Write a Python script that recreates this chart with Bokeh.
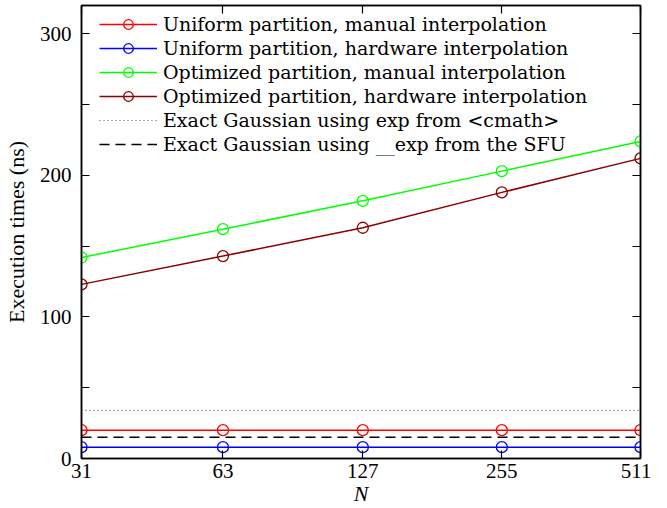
from bokeh.plotting import figure
from bokeh.models import Range1d, LinearAxis, LogAxis, FixedTicker, Legend, LegendItem
from bokeh.embed import file_html
from bokeh.resources import INLINE

N = [31, 63, 127, 255, 511]
uniform_manual = [20, 20, 20, 20, 20]
uniform_hw = [8, 8, 8, 8, 8]
opt_manual = [142, 162, 182, 203, 224]
opt_hw = [123, 143, 163, 188, 212]
exact_cmath = [34, 34, 34, 34, 34]
exact_sfu = [15, 15, 15, 15, 15]

y_ticks = [0, 100, 200, 300]
y_minor = [50, 150, 250]

FONT = "Liberation Serif"

p = figure(width=651, height=508, x_axis_type="log",
           x_range=Range1d(31, 511), y_range=Range1d(0, 320),
           output_backend="svg", toolbar_location=None,
           min_border_left=80, min_border_right=11,
           min_border_top=5, min_border_bottom=49)
p.xgrid.visible = False
p.ygrid.visible = False
p.outline_line_color = "black"
p.outline_line_width = 1.5
p.background_fill_color = "white"


def style_axis(ax):
    ax.major_tick_in = 8
    ax.major_tick_out = 0
    ax.minor_tick_in = 8
    ax.minor_tick_out = 0
    ax.axis_line_color = "black"
    ax.axis_line_width = 1.5
    ax.major_tick_line_width = 1.2
    ax.minor_tick_line_width = 1.2
    ax.major_label_text_font = FONT
    ax.major_label_text_font_size = "21px"
    ax.major_label_text_color = "black"
    ax.axis_label_text_font = FONT
    ax.axis_label_text_font_size = "22px"
    ax.axis_label_text_color = "black"
    ax.axis_label_text_font_style = "normal"


p.xaxis.ticker = FixedTicker(ticks=N, minor_ticks=[])
p.xaxis.major_label_overrides = {n: str(n) for n in N}
p.yaxis.ticker = FixedTicker(ticks=y_ticks, minor_ticks=y_minor)
for ax in p.xaxis:
    style_axis(ax)
    ax.axis_label = "N"
    ax.axis_label_text_font_style = "italic"
    ax.axis_label_standoff = 0
    ax.major_label_standoff = 5
for ax in p.yaxis:
    style_axis(ax)
    ax.axis_label = "Execution times (ns)"
    ax.axis_label_standoff = 8
    ax.major_label_standoff = 10

top = LogAxis(ticker=FixedTicker(ticks=N, minor_ticks=[]),
              major_label_overrides={n: "" for n in N})
style_axis(top)
top.major_label_text_font_size = "0px"
top.major_label_standoff = 0
p.add_layout(top, "above")

right = LinearAxis(ticker=FixedTicker(ticks=y_ticks, minor_ticks=y_minor),
                   major_label_overrides={t: "" for t in y_ticks})
style_axis(right)
right.major_label_text_font_size = "0px"
right.major_label_standoff = 0
p.add_layout(right, "right")

items = []
series = [
    ("Uniform partition, manual interpolation", uniform_manual, "#ff0000"),
    ("Uniform partition, hardware interpolation", uniform_hw, "#0000ff"),
    ("Optimized partition, manual interpolation", opt_manual, "#00ff00"),
    ("Optimized partition, hardware interpolation", opt_hw, "#8b0000"),
]

r_dot = p.line(N, exact_cmath, line_color="#555555", line_width=1.2, line_dash="1 3")
r_dash = p.line(N, exact_sfu, line_color="black", line_width=1.5, line_dash="10 6")

for label, ys, col in series:
    rl = p.line(N, ys, line_color=col, line_width=1.5)
    rc = p.scatter(N, ys, marker="circle", size=11, fill_color=None,
                   line_color=col, line_width=1.3)
    items.append(LegendItem(label=label, renderers=[rl, rc]))

items.append(LegendItem(label="Exact Gaussian using exp from <cmath>", renderers=[r_dot]))
items.append(LegendItem(label="Exact Gaussian using __exp from the SFU", renderers=[r_dash]))

legend = Legend(items=items, location=(18, 302))
legend.border_line_alpha = 0
legend.background_fill_alpha = 0
legend.label_text_font = "DejaVu Serif"
legend.label_text_font_size = "19px"
legend.label_text_color = "black"
legend.label_height = 24
legend.glyph_height = 24
legend.glyph_width = 58
legend.spacing = 0
legend.padding = 0
legend.margin = 0
legend.label_standoff = 6
p.add_layout(legend)

open("out.html", "w").write(file_html(p, INLINE))
